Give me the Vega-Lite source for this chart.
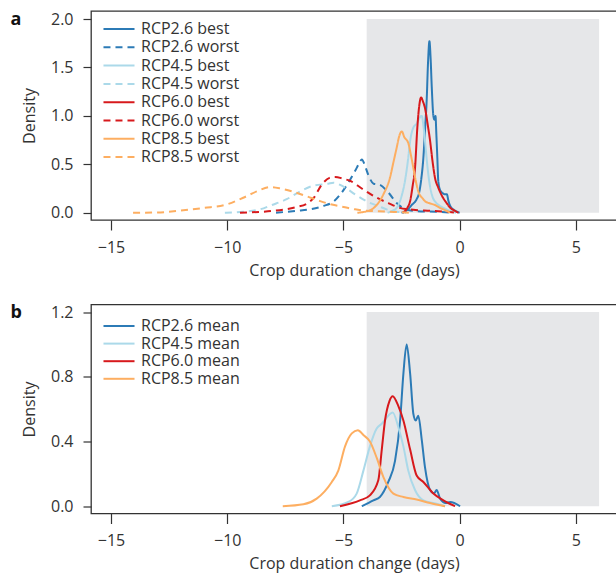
{
  "$schema": "https://vega.github.io/schema/vega-lite/v6.json",
  "padding": {"left": 9, "top": 10, "right": 0, "bottom": 0},
  "spacing": 23.5,
  "config": {
    "font": "Open Sans",
    "view": {"stroke": "#333", "strokeWidth": 1.3},
    "axis": {"domain": false, "grid": false, "tickColor": "#333", "tickWidth": 1.2, "labelFontSize": 16, "labelColor": "#333", "titleFontSize": 16, "titleFontWeight": "normal", "titleColor": "#333"},
    "legend": {"symbolType": "M-3,0H3", "symbolSize": 107, "symbolStrokeWidth": 2, "labelFontSize": 16, "labelColor": "#333", "labelOffset": 14, "rowPadding": 2.3, "padding": 0}
  },
  "datasets": {
    "top": [
      {"s": "RCP2.6 best", "x": -2.5, "y": 0}, {"s": "RCP2.6 best", "x": -2.3, "y": 0.02}, {"s": "RCP2.6 best", "x": -2.06, "y": 0.08}, {"s": "RCP2.6 best", "x": -1.85, "y": 0.14}, {"s": "RCP2.6 best", "x": -1.75, "y": 0.2}, {"s": "RCP2.6 best", "x": -1.65, "y": 0.35}, {"s": "RCP2.6 best", "x": -1.56, "y": 0.57}, {"s": "RCP2.6 best", "x": -1.48, "y": 0.9}, {"s": "RCP2.6 best", "x": -1.42, "y": 1.15}, {"s": "RCP2.6 best", "x": -1.36, "y": 1.55}, {"s": "RCP2.6 best", "x": -1.3, "y": 1.77}, {"s": "RCP2.6 best", "x": -1.25, "y": 1.6}, {"s": "RCP2.6 best", "x": -1.2, "y": 1.3}, {"s": "RCP2.6 best", "x": -1.13, "y": 1.0}, {"s": "RCP2.6 best", "x": -1.08, "y": 0.96}, {"s": "RCP2.6 best", "x": -1.04, "y": 1.0}, {"s": "RCP2.6 best", "x": -1.0, "y": 0.8}, {"s": "RCP2.6 best", "x": -0.96, "y": 0.57}, {"s": "RCP2.6 best", "x": -0.92, "y": 0.33}, {"s": "RCP2.6 best", "x": -0.85, "y": 0.24}, {"s": "RCP2.6 best", "x": -0.72, "y": 0.2}, {"s": "RCP2.6 best", "x": -0.62, "y": 0.19}, {"s": "RCP2.6 best", "x": -0.55, "y": 0.19}, {"s": "RCP2.6 best", "x": -0.48, "y": 0.12}, {"s": "RCP2.6 best", "x": -0.38, "y": 0.06}, {"s": "RCP2.6 best", "x": -0.25, "y": 0.03}, {"s": "RCP2.6 best", "x": 0.0, "y": 0},

      {"s": "RCP2.6 worst", "x": -7.9, "y": 0}, {"s": "RCP2.6 worst", "x": -7.0, "y": 0.02}, {"s": "RCP2.6 worst", "x": -6.44, "y": 0.035}, {"s": "RCP2.6 worst", "x": -5.86, "y": 0.07}, {"s": "RCP2.6 worst", "x": -5.4, "y": 0.12}, {"s": "RCP2.6 worst", "x": -5.1, "y": 0.2}, {"s": "RCP2.6 worst", "x": -4.79, "y": 0.31}, {"s": "RCP2.6 worst", "x": -4.5, "y": 0.43}, {"s": "RCP2.6 worst", "x": -4.3, "y": 0.52}, {"s": "RCP2.6 worst", "x": -4.21, "y": 0.55}, {"s": "RCP2.6 worst", "x": -4.05, "y": 0.47}, {"s": "RCP2.6 worst", "x": -3.93, "y": 0.39}, {"s": "RCP2.6 worst", "x": -3.7, "y": 0.3}, {"s": "RCP2.6 worst", "x": -3.45, "y": 0.29}, {"s": "RCP2.6 worst", "x": -3.07, "y": 0.21}, {"s": "RCP2.6 worst", "x": -2.71, "y": 0.1}, {"s": "RCP2.6 worst", "x": -2.3, "y": 0.035}, {"s": "RCP2.6 worst", "x": -1.8, "y": 0.015}, {"s": "RCP2.6 worst", "x": -1.0, "y": 0.01}, {"s": "RCP2.6 worst", "x": -0.3, "y": 0},

      {"s": "RCP4.5 best", "x": -3.1, "y": 0}, {"s": "RCP4.5 best", "x": -2.9, "y": 0.02}, {"s": "RCP4.5 best", "x": -2.71, "y": 0.05}, {"s": "RCP4.5 best", "x": -2.5, "y": 0.17}, {"s": "RCP4.5 best", "x": -2.35, "y": 0.33}, {"s": "RCP4.5 best", "x": -2.22, "y": 0.55}, {"s": "RCP4.5 best", "x": -2.13, "y": 0.74}, {"s": "RCP4.5 best", "x": -1.99, "y": 0.88}, {"s": "RCP4.5 best", "x": -1.85, "y": 0.92}, {"s": "RCP4.5 best", "x": -1.72, "y": 0.98}, {"s": "RCP4.5 best", "x": -1.63, "y": 1.0}, {"s": "RCP4.5 best", "x": -1.56, "y": 0.9}, {"s": "RCP4.5 best", "x": -1.49, "y": 0.74}, {"s": "RCP4.5 best", "x": -1.42, "y": 0.56}, {"s": "RCP4.5 best", "x": -1.35, "y": 0.4}, {"s": "RCP4.5 best", "x": -1.2, "y": 0.19}, {"s": "RCP4.5 best", "x": -1.0, "y": 0.1}, {"s": "RCP4.5 best", "x": -0.84, "y": 0.07}, {"s": "RCP4.5 best", "x": -0.6, "y": 0.04}, {"s": "RCP4.5 best", "x": -0.41, "y": 0.02}, {"s": "RCP4.5 best", "x": -0.15, "y": 0},

      {"s": "RCP4.5 worst", "x": -10.1, "y": 0}, {"s": "RCP4.5 worst", "x": -9.3, "y": 0.01}, {"s": "RCP4.5 worst", "x": -8.59, "y": 0.035}, {"s": "RCP4.5 worst", "x": -8.08, "y": 0.08}, {"s": "RCP4.5 worst", "x": -7.44, "y": 0.14}, {"s": "RCP4.5 worst", "x": -6.87, "y": 0.22}, {"s": "RCP4.5 worst", "x": -6.29, "y": 0.28}, {"s": "RCP4.5 worst", "x": -5.65, "y": 0.3}, {"s": "RCP4.5 worst", "x": -5.43, "y": 0.31}, {"s": "RCP4.5 worst", "x": -5.0, "y": 0.27}, {"s": "RCP4.5 worst", "x": -4.5, "y": 0.19}, {"s": "RCP4.5 worst", "x": -3.93, "y": 0.11}, {"s": "RCP4.5 worst", "x": -3.5, "y": 0.07}, {"s": "RCP4.5 worst", "x": -3.14, "y": 0.035}, {"s": "RCP4.5 worst", "x": -2.7, "y": 0.01}, {"s": "RCP4.5 worst", "x": -2.3, "y": 0},

      {"s": "RCP6.0 best", "x": -2.45, "y": 0}, {"s": "RCP6.0 best", "x": -2.25, "y": 0.05}, {"s": "RCP6.0 best", "x": -2.13, "y": 0.12}, {"s": "RCP6.0 best", "x": -2.02, "y": 0.28}, {"s": "RCP6.0 best", "x": -1.92, "y": 0.46}, {"s": "RCP6.0 best", "x": -1.82, "y": 0.88}, {"s": "RCP6.0 best", "x": -1.74, "y": 1.1}, {"s": "RCP6.0 best", "x": -1.66, "y": 1.19}, {"s": "RCP6.0 best", "x": -1.58, "y": 1.15}, {"s": "RCP6.0 best", "x": -1.49, "y": 1.08}, {"s": "RCP6.0 best", "x": -1.38, "y": 0.92}, {"s": "RCP6.0 best", "x": -1.27, "y": 0.74}, {"s": "RCP6.0 best", "x": -1.16, "y": 0.52}, {"s": "RCP6.0 best", "x": -1.06, "y": 0.36}, {"s": "RCP6.0 best", "x": -0.92, "y": 0.26}, {"s": "RCP6.0 best", "x": -0.75, "y": 0.17}, {"s": "RCP6.0 best", "x": -0.56, "y": 0.1}, {"s": "RCP6.0 best", "x": -0.4, "y": 0.05}, {"s": "RCP6.0 best", "x": -0.2, "y": 0.02}, {"s": "RCP6.0 best", "x": -0.05, "y": 0},

      {"s": "RCP6.0 worst", "x": -9.45, "y": 0}, {"s": "RCP6.0 worst", "x": -8.5, "y": 0.01}, {"s": "RCP6.0 worst", "x": -8.0, "y": 0.02}, {"s": "RCP6.0 worst", "x": -7.0, "y": 0.06}, {"s": "RCP6.0 worst", "x": -6.6, "y": 0.09}, {"s": "RCP6.0 worst", "x": -6.29, "y": 0.15}, {"s": "RCP6.0 worst", "x": -5.93, "y": 0.29}, {"s": "RCP6.0 worst", "x": -5.6, "y": 0.36}, {"s": "RCP6.0 worst", "x": -5.36, "y": 0.37}, {"s": "RCP6.0 worst", "x": -5.0, "y": 0.35}, {"s": "RCP6.0 worst", "x": -4.72, "y": 0.33}, {"s": "RCP6.0 worst", "x": -4.21, "y": 0.25}, {"s": "RCP6.0 worst", "x": -3.6, "y": 0.16}, {"s": "RCP6.0 worst", "x": -3.07, "y": 0.1}, {"s": "RCP6.0 worst", "x": -2.57, "y": 0.05}, {"s": "RCP6.0 worst", "x": -2.0, "y": 0.03}, {"s": "RCP6.0 worst", "x": -1.27, "y": 0.02}, {"s": "RCP6.0 worst", "x": -0.6, "y": 0.01}, {"s": "RCP6.0 worst", "x": -0.13, "y": 0},

      {"s": "RCP8.5 best", "x": -4.4, "y": 0}, {"s": "RCP8.5 best", "x": -4.0, "y": 0.015}, {"s": "RCP8.5 best", "x": -3.78, "y": 0.035}, {"s": "RCP8.5 best", "x": -3.5, "y": 0.1}, {"s": "RCP8.5 best", "x": -3.28, "y": 0.19}, {"s": "RCP8.5 best", "x": -3.0, "y": 0.36}, {"s": "RCP8.5 best", "x": -2.85, "y": 0.52}, {"s": "RCP8.5 best", "x": -2.71, "y": 0.67}, {"s": "RCP8.5 best", "x": -2.6, "y": 0.79}, {"s": "RCP8.5 best", "x": -2.49, "y": 0.84}, {"s": "RCP8.5 best", "x": -2.38, "y": 0.78}, {"s": "RCP8.5 best", "x": -2.21, "y": 0.72}, {"s": "RCP8.5 best", "x": -2.1, "y": 0.6}, {"s": "RCP8.5 best", "x": -1.99, "y": 0.46}, {"s": "RCP8.5 best", "x": -1.88, "y": 0.32}, {"s": "RCP8.5 best", "x": -1.78, "y": 0.22}, {"s": "RCP8.5 best", "x": -1.6, "y": 0.15}, {"s": "RCP8.5 best", "x": -1.49, "y": 0.12}, {"s": "RCP8.5 best", "x": -1.25, "y": 0.095}, {"s": "RCP8.5 best", "x": -1.06, "y": 0.08}, {"s": "RCP8.5 best", "x": -0.85, "y": 0.05}, {"s": "RCP8.5 best", "x": -0.7, "y": 0.035}, {"s": "RCP8.5 best", "x": -0.41, "y": 0},

      {"s": "RCP8.5 worst", "x": -14.05, "y": 0}, {"s": "RCP8.5 worst", "x": -13.0, "y": 0.003}, {"s": "RCP8.5 worst", "x": -12.0, "y": 0.022}, {"s": "RCP8.5 worst", "x": -11.0, "y": 0.05}, {"s": "RCP8.5 worst", "x": -10.0, "y": 0.087}, {"s": "RCP8.5 worst", "x": -9.31, "y": 0.155}, {"s": "RCP8.5 worst", "x": -8.73, "y": 0.22}, {"s": "RCP8.5 worst", "x": -8.16, "y": 0.265}, {"s": "RCP8.5 worst", "x": -7.7, "y": 0.25}, {"s": "RCP8.5 worst", "x": -7.2, "y": 0.22}, {"s": "RCP8.5 worst", "x": -6.58, "y": 0.17}, {"s": "RCP8.5 worst", "x": -6.0, "y": 0.12}, {"s": "RCP8.5 worst", "x": -5.5, "y": 0.085}, {"s": "RCP8.5 worst", "x": -5.0, "y": 0.06}, {"s": "RCP8.5 worst", "x": -4.5, "y": 0.035}, {"s": "RCP8.5 worst", "x": -4.0, "y": 0.02}, {"s": "RCP8.5 worst", "x": -3.5, "y": 0.015}, {"s": "RCP8.5 worst", "x": -3.0, "y": 0.01}, {"s": "RCP8.5 worst", "x": -2.5, "y": 0.005}, {"s": "RCP8.5 worst", "x": -2.1, "y": 0}
    ],
    "bottom": [
      {"s": "RCP2.6 mean", "x": -4.21, "y": 0}, {"s": "RCP2.6 mean", "x": -3.71, "y": 0.036}, {"s": "RCP2.6 mean", "x": -3.43, "y": 0.057}, {"s": "RCP2.6 mean", "x": -3.07, "y": 0.15}, {"s": "RCP2.6 mean", "x": -2.78, "y": 0.28}, {"s": "RCP2.6 mean", "x": -2.56, "y": 0.53}, {"s": "RCP2.6 mean", "x": -2.42, "y": 0.82}, {"s": "RCP2.6 mean", "x": -2.28, "y": 1.0}, {"s": "RCP2.6 mean", "x": -2.13, "y": 0.82}, {"s": "RCP2.6 mean", "x": -1.99, "y": 0.57}, {"s": "RCP2.6 mean", "x": -1.89, "y": 0.53}, {"s": "RCP2.6 mean", "x": -1.78, "y": 0.56}, {"s": "RCP2.6 mean", "x": -1.63, "y": 0.41}, {"s": "RCP2.6 mean", "x": -1.49, "y": 0.24}, {"s": "RCP2.6 mean", "x": -1.27, "y": 0.1}, {"s": "RCP2.6 mean", "x": -1.1, "y": 0.08}, {"s": "RCP2.6 mean", "x": -0.99, "y": 0.1}, {"s": "RCP2.6 mean", "x": -0.84, "y": 0.047}, {"s": "RCP2.6 mean", "x": -0.6, "y": 0.02}, {"s": "RCP2.6 mean", "x": -0.41, "y": 0.026}, {"s": "RCP2.6 mean", "x": 0.02, "y": 0},

      {"s": "RCP4.5 mean", "x": -5.5, "y": 0}, {"s": "RCP4.5 mean", "x": -4.79, "y": 0.026}, {"s": "RCP4.5 mean", "x": -4.43, "y": 0.078}, {"s": "RCP4.5 mean", "x": -4.14, "y": 0.22}, {"s": "RCP4.5 mean", "x": -3.86, "y": 0.37}, {"s": "RCP4.5 mean", "x": -3.57, "y": 0.48}, {"s": "RCP4.5 mean", "x": -3.35, "y": 0.51}, {"s": "RCP4.5 mean", "x": -2.88, "y": 0.58}, {"s": "RCP4.5 mean", "x": -2.64, "y": 0.49}, {"s": "RCP4.5 mean", "x": -2.42, "y": 0.37}, {"s": "RCP4.5 mean", "x": -2.21, "y": 0.22}, {"s": "RCP4.5 mean", "x": -1.92, "y": 0.1}, {"s": "RCP4.5 mean", "x": -1.56, "y": 0.036}, {"s": "RCP4.5 mean", "x": -0.99, "y": 0.016}, {"s": "RCP4.5 mean", "x": -0.63, "y": 0},

      {"s": "RCP6.0 mean", "x": -5.15, "y": 0}, {"s": "RCP6.0 mean", "x": -4.29, "y": 0.036}, {"s": "RCP6.0 mean", "x": -3.86, "y": 0.067}, {"s": "RCP6.0 mean", "x": -3.5, "y": 0.16}, {"s": "RCP6.0 mean", "x": -3.35, "y": 0.35}, {"s": "RCP6.0 mean", "x": -3.21, "y": 0.53}, {"s": "RCP6.0 mean", "x": -3.02, "y": 0.65}, {"s": "RCP6.0 mean", "x": -2.88, "y": 0.68}, {"s": "RCP6.0 mean", "x": -2.64, "y": 0.62}, {"s": "RCP6.0 mean", "x": -2.42, "y": 0.53}, {"s": "RCP6.0 mean", "x": -2.13, "y": 0.35}, {"s": "RCP6.0 mean", "x": -1.85, "y": 0.19}, {"s": "RCP6.0 mean", "x": -1.56, "y": 0.15}, {"s": "RCP6.0 mean", "x": -1.13, "y": 0.078}, {"s": "RCP6.0 mean", "x": -0.7, "y": 0.036}, {"s": "RCP6.0 mean", "x": -0.2, "y": 0},

      {"s": "RCP8.5 mean", "x": -7.61, "y": 0}, {"s": "RCP8.5 mean", "x": -6.72, "y": 0.012}, {"s": "RCP8.5 mean", "x": -6.15, "y": 0.047}, {"s": "RCP8.5 mean", "x": -5.5, "y": 0.15}, {"s": "RCP8.5 mean", "x": -5.22, "y": 0.22}, {"s": "RCP8.5 mean", "x": -4.93, "y": 0.37}, {"s": "RCP8.5 mean", "x": -4.64, "y": 0.45}, {"s": "RCP8.5 mean", "x": -4.38, "y": 0.47}, {"s": "RCP8.5 mean", "x": -4.14, "y": 0.44}, {"s": "RCP8.5 mean", "x": -3.86, "y": 0.4}, {"s": "RCP8.5 mean", "x": -3.57, "y": 0.3}, {"s": "RCP8.5 mean", "x": -3.28, "y": 0.18}, {"s": "RCP8.5 mean", "x": -2.85, "y": 0.078}, {"s": "RCP8.5 mean", "x": -2.42, "y": 0.057}, {"s": "RCP8.5 mean", "x": -1.85, "y": 0.041}, {"s": "RCP8.5 mean", "x": -1.27, "y": 0.02}, {"s": "RCP8.5 mean", "x": -0.63, "y": 0}
    ],
    "shadeTop": [{"x1": -4, "x2": 6, "y1": 0, "y2": 2}],
    "shadeBottom": [{"x1": -4, "x2": 6, "y1": 0, "y2": 1.2}]
  },
  "vconcat": [
    {
      "width": 526,
      "height": 209,
      "title": {"text": "a", "anchor": "start", "frame": "bounds", "fontSize": 18, "fontWeight": "bold", "color": "#111", "dx": -11, "dy": 18, "offset": 0},
      "layer": [
        {
          "data": {"name": "shadeTop"},
          "mark": {"type": "rect", "color": "#e6e7e9"},
          "encoding": {
            "x": {"field": "x1", "type": "quantitative", "scale": {"domain": [-15.86, 6.77], "nice": false, "zero": false}, "axis": {"values": [-15, -10, -5, 0, 5], "format": "d", "tickSize": 10, "labelPadding": 9, "titlePadding": 7, "title": "Crop duration change (days)"}},
            "x2": {"field": "x2"},
            "y": {"field": "y1", "type": "quantitative", "scale": {"domain": [-0.075, 2.083], "nice": false, "zero": false}, "axis": {"values": [0, 0.5, 1, 1.5, 2], "format": ".1f", "tickSize": 8, "labelPadding": 10, "titlePadding": 13, "title": "Density"}},
            "y2": {"field": "y2"}
          }
        },
        {
          "data": {"name": "top"},
          "mark": {"type": "line", "strokeWidth": 2, "interpolate": "monotone"},
          "encoding": {
            "x": {"field": "x", "type": "quantitative"},
            "y": {"field": "y", "type": "quantitative"},
            "color": {"field": "s", "type": "nominal", "scale": {"domain": ["RCP2.6 best", "RCP2.6 worst", "RCP4.5 best", "RCP4.5 worst", "RCP6.0 best", "RCP6.0 worst", "RCP8.5 best", "RCP8.5 worst"], "range": ["#2c7bb6", "#2c7bb6", "#abd9e9", "#abd9e9", "#d7191c", "#d7191c", "#fdae61", "#fdae61"]}, "legend": {"title": null, "orient": "none", "legendX": 20, "legendY": 10}},
            "strokeDash": {"field": "s", "type": "nominal", "scale": {"domain": ["RCP2.6 best", "RCP2.6 worst", "RCP4.5 best", "RCP4.5 worst", "RCP6.0 best", "RCP6.0 worst", "RCP8.5 best", "RCP8.5 worst"], "range": [[1, 0], [7, 5], [1, 0], [7, 5], [1, 0], [7, 5], [1, 0], [7, 5]]}, "legend": {"title": null, "orient": "none", "legendX": 20, "legendY": 10}}
          }
        }
      ]
    },
    {
      "width": 526,
      "height": 209,
      "title": {"text": "b", "anchor": "start", "frame": "bounds", "fontSize": 18, "fontWeight": "bold", "color": "#111", "dx": -11, "dy": 18, "offset": 0},
      "layer": [
        {
          "data": {"name": "shadeBottom"},
          "mark": {"type": "rect", "color": "#e6e7e9"},
          "encoding": {
            "x": {"field": "x1", "type": "quantitative", "scale": {"domain": [-15.86, 6.77], "nice": false, "zero": false}, "axis": {"values": [-15, -10, -5, 0, 5], "format": "d", "tickSize": 10, "labelPadding": 9, "titlePadding": 7, "title": "Crop duration change (days)"}},
            "x2": {"field": "x2"},
            "y": {"field": "y1", "type": "quantitative", "scale": {"domain": [-0.045, 1.247], "nice": false, "zero": false}, "axis": {"values": [0, 0.2, 0.4, 0.6, 0.8, 1.0, 1.2], "labelExpr": "round(datum.value*10) % 4 === 0 ? format(datum.value, '.1f') : ''", "tickSize": 8, "labelPadding": 10, "titlePadding": 13, "title": "Density"}},
            "y2": {"field": "y2"}
          }
        },
        {
          "data": {"name": "bottom"},
          "mark": {"type": "line", "strokeWidth": 2, "interpolate": "monotone"},
          "encoding": {
            "x": {"field": "x", "type": "quantitative"},
            "y": {"field": "y", "type": "quantitative"},
            "color": {"field": "s", "type": "nominal", "scale": {"domain": ["RCP2.6 mean", "RCP4.5 mean", "RCP6.0 mean", "RCP8.5 mean"], "range": ["#2c7bb6", "#abd9e9", "#d7191c", "#fdae61"]}, "legend": {"title": null, "orient": "none", "legendX": 20, "legendY": 13.5, "rowPadding": 1.6}}
          }
        }
      ]
    }
  ],
  "resolve": {"scale": {"color": "independent", "strokeDash": "independent", "x": "independent", "y": "independent"}, "legend": {"color": "independent", "strokeDash": "independent"}}
}
